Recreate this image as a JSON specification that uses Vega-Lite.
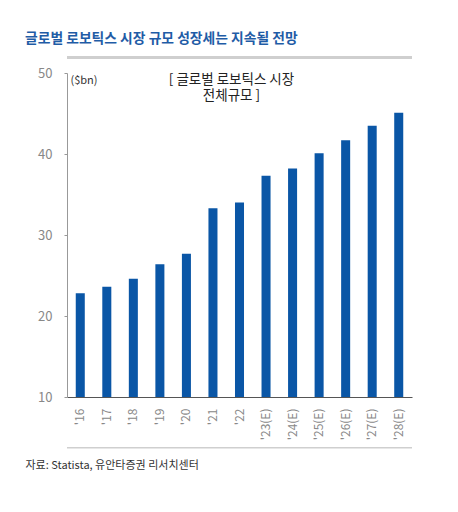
{
  "$schema": "https://vega.github.io/schema/vega-lite/v6.json",
  "width": 345,
  "height": 324,
  "autosize": "none",
  "padding": {"left": 67, "top": 73, "right": 46, "bottom": 115},
  "background": "white",
  "config": {"font": "Noto Sans CJK KR", "view": {"stroke": null}},
  "title": {
    "text": "글로벌 로보틱스 시장 규모 성장세는 지속될 전망",
    "anchor": "start",
    "frame": "group",
    "dx": -42,
    "baseline": "bottom",
    "offset": -4,
    "fontSize": 13.8,
    "fontWeight": "bold",
    "color": "#1f5ca6"
  },
  "datasets": {
    "market": [
      {"year": "'16", "size": 22.8},
      {"year": "'17", "size": 23.6},
      {"year": "'18", "size": 24.6},
      {"year": "'19", "size": 26.4},
      {"year": "'20", "size": 27.7},
      {"year": "'21", "size": 33.3},
      {"year": "'22", "size": 34.0},
      {"year": "'23(E)", "size": 37.3},
      {"year": "'24(E)", "size": 38.2},
      {"year": "'25(E)", "size": 40.1},
      {"year": "'26(E)", "size": 41.7},
      {"year": "'27(E)", "size": 43.5},
      {"year": "'28(E)", "size": 45.1}
    ],
    "frame": [
      {"level": 51.9, "weight": 3},
      {"level": 3.74, "weight": 1.5}
    ]
  },
  "data": {"name": "market"},
  "layer": [
    {
      "mark": {"type": "bar", "color": "#0a56a6"},
      "encoding": {
        "x": {
          "field": "year",
          "type": "nominal",
          "sort": null,
          "scale": {"paddingInner": 0.66, "paddingOuter": 0.33},
          "axis": {
            "title": "자료: Statista, 유안타증권 리서치센터",
            "titleAnchor": "start",
            "titleAlign": "left",
            "titleX": -42,
            "titleY": 71,
            "titleBaseline": "alphabetic",
            "titleFontSize": 11,
            "titleFontWeight": "normal",
            "titleColor": "#333333",
            "labelAngle": 270,
            "labelColor": "#888888",
            "labelFontSize": 12,
            "labelPadding": 11,
            "ticks": false,
            "domainColor": "#555555"
          }
        },
        "y": {
          "field": "size",
          "type": "quantitative",
          "scale": {"domain": [10, 50], "zero": false, "nice": false},
          "axis": {
            "title": "($bn)",
            "titleAngle": 0,
            "titleAlign": "left",
            "titleBaseline": "top",
            "titleX": 3,
            "titleY": 1,
            "titleFontSize": 11,
            "titleFontWeight": "normal",
            "titleColor": "#333333",
            "values": [10, 20, 30, 40, 50],
            "grid": false,
            "domainColor": "#999999",
            "tickColor": "#999999",
            "tickSize": 3,
            "labelColor": "#888888",
            "labelFontSize": 13,
            "labelPadding": 12
          }
        },
        "y2": {"datum": 10}
      }
    },
    {
      "data": {"name": "frame"},
      "mark": {"type": "rule", "color": "#cfcfcf"},
      "encoding": {
        "y": {"field": "level", "type": "quantitative"},
        "strokeWidth": {"field": "weight", "type": "quantitative", "scale": null}
      }
    },
    {
      "data": {"values": [{"note": "market"}]},
      "mark": {
        "type": "text",
        "align": "center",
        "baseline": "top",
        "dx": -8,
        "dy": 0,
        "fontSize": 13.5,
        "lineHeight": 16,
        "color": "#222222"
      },
      "encoding": {
        "x": {"datum": "'22", "type": "nominal"},
        "y": {"datum": 50, "type": "quantitative"},
        "text": {"value": ["[ 글로벌 로보틱스 시장", "전체규모 ]"]}
      }
    }
  ]
}
